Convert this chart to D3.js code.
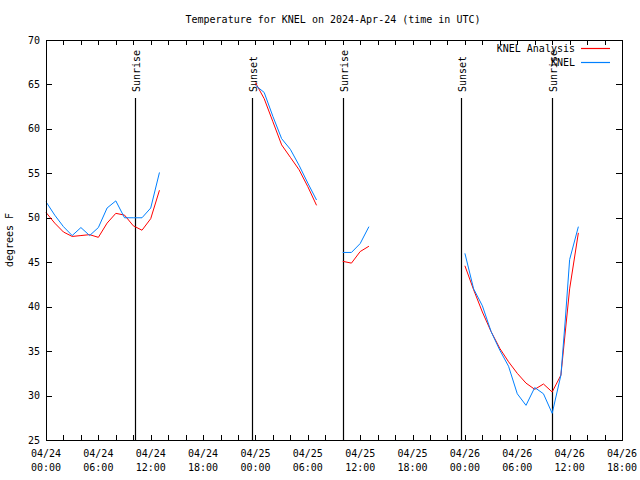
<!DOCTYPE html>
<html>
<head>
<meta charset="utf-8">
<script src="https://cdn.jsdelivr.net/npm/d3@7"></script>
<style>
  body { margin: 0; background: #fff; }
  text { font-family: "DejaVu Sans Mono", monospace; font-size: 10px; fill: #000; }
</style>
</head>
<body>
<svg id="svg" width="640" height="480"></svg>
<script>
// hours after 2024-04-24 00:00 UTC, null breaks the line
var obsHours = [0,1,2,3,4,5,6,7,8,9,10,11,12,13, null,
    24,25,26,27,28,29,30,31, null,
    34,35,36,37, null,
    48,49,50,51,52,53,54,55,56,57,58,59,59.5,60,61];
var obsTemps = [51.8,50.3,49.0,48.0,48.9,48.0,48.9,51.1,51.9,50.0,50.0,50.0,51.1,55.1, null,
    64.9,64.1,61.4,58.9,57.7,55.9,53.9,52.0, null,
    46.1,46.1,47.1,49.0, null,
    46.0,42.0,40.1,37.2,35.1,33.3,30.2,28.9,30.9,30.2,28.0,32.3,38.5,45.3,49.0];

var anaHours = [0,1,2,3,4,5,6,7,8,9,10,11,12,13, null,
    24,25,26,27,28,29,30,31, null,
    34,35,36,37, null,
    48,49,50,51,52,53,54,55,56,57,58,59,60,61];
var anaTemps = [50.6,49.4,48.4,47.9,48.0,48.1,47.8,49.4,50.5,50.3,49.1,48.6,49.9,53.1, null,
    65.2,63.4,60.8,58.2,56.8,55.4,53.5,51.4, null,
    45.1,44.9,46.2,46.8, null,
    44.6,41.9,39.4,37.2,35.3,33.8,32.5,31.4,30.7,31.3,30.4,32.3,42.0,48.3];

var eventNames = ["Sunrise", "Sunset", "Sunrise", "Sunset", "Sunrise"];
var eventHours = [10.2, 23.6, 34.03, 47.55, 57.98];

var yTicks = [25, 30, 35, 40, 45, 50, 55, 60, 65, 70];

var t0 = Date.UTC(2024, 3, 24, 0, 0);
function hourDate(h) { return new Date(t0 + h * 3600000); }

var svg = d3.select('#svg');
var width = 640, height = 480;
var m = {left: 46, right: 18, top: 40, bottom: 40};

var x = d3.scaleUtc()
    .domain([hourDate(0), hourDate(66)])
    .range([m.left, width - m.right]);
var y = d3.scaleLinear()
    .domain([25, 70])
    .range([height - m.bottom, m.top]);

// title and axis label
svg.append('text').attr('x', 333).attr('y', 23).attr('text-anchor', 'middle')
    .text('Temperature for KNEL on 2024-Apr-24 (time in UTC)');
svg.append('text').attr('transform', 'translate(13,240) rotate(-90)')
    .attr('text-anchor', 'middle').text('degrees F');

// ticks, inward like gnuplot
var minor = d3.range(0, 67, 2).map(hourDate);
var g = svg.append('g').attr('stroke', '#000').attr('shape-rendering', 'crispEdges');
minor.forEach(function (d) {
    var px = Math.round(x(d)) + 0.5;
    g.append('line').attr('x1', px).attr('x2', px).attr('y1', height - m.bottom).attr('y2', height - m.bottom - 5);
    g.append('line').attr('x1', px).attr('x2', px).attr('y1', m.top).attr('y2', m.top + 5);
});
yTicks.forEach(function (v) {
    var py = Math.round(y(v)) + 0.5;
    g.append('line').attr('x1', m.left).attr('x2', m.left + 6).attr('y1', py).attr('y2', py);
    g.append('line').attr('x1', width - m.right).attr('x2', width - m.right - 6).attr('y1', py).attr('y2', py);
    svg.append('text').attr('x', 40).attr('y', y(v)).attr('dy', '0.35em')
        .attr('text-anchor', 'end').text(v);
});

// x tick labels, two lines
var fmtDay = d3.utcFormat('%m/%d'), fmtTime = d3.utcFormat('%H:%M');
x.ticks(d3.utcHour.every(6)).forEach(function (d) {
    var t = svg.append('text').attr('x', x(d)).attr('y', 457).attr('text-anchor', 'middle');
    t.append('tspan').attr('x', x(d)).text(fmtDay(d));
    t.append('tspan').attr('x', x(d)).attr('dy', 14).text(fmtTime(d));
});

// sunrise / sunset lines
eventHours.forEach(function (h, i) {
    var px = Math.round(x(hourDate(h))) + 0.5;
    svg.append('line').attr('x1', px).attr('x2', px)
        .attr('y1', height - m.bottom).attr('y2', 98)
        .attr('stroke', '#000').attr('stroke-width', 1.2);
    svg.append('text').attr('transform', 'translate(' + (px + 4) + ',92) rotate(-90)')
        .text(eventNames[i]);
});

// series
function series(hours, temps, color) {
    var pts = hours.map(function (h, i) { return [h, temps[i]]; });
    var line = d3.line()
        .defined(function (d) { return d[0] !== null && d[1] !== null; })
        .x(function (d) { return x(hourDate(d[0])); })
        .y(function (d) { return y(d[1]); });
    svg.append('path').datum(pts).attr('d', line)
        .attr('fill', 'none').attr('stroke', color).attr('stroke-width', 1);
}
series(anaHours, anaTemps, '#ff0000');
series(obsHours, obsTemps, '#0080ff');

// border
svg.append('rect').attr('x', m.left + 0.5).attr('y', m.top + 0.5)
    .attr('width', width - m.left - m.right).attr('height', height - m.top - m.bottom)
    .attr('fill', 'none').attr('stroke', '#000').attr('shape-rendering', 'crispEdges');

// legend
var legend = [['KNEL Analysis', '#ff0000'], ['KNEL', '#0080ff']];
legend.forEach(function (l, i) {
    var ly = 48 + i * 14;
    svg.append('text').attr('x', 575).attr('y', ly).attr('dy', '0.35em')
        .attr('text-anchor', 'end').text(l[0]);
    svg.append('line').attr('x1', 581).attr('x2', 610).attr('y1', ly + 0.5).attr('y2', ly + 0.5)
        .attr('stroke', l[1]).attr('stroke-width', 1.2);
});
</script>
</body>
</html>
